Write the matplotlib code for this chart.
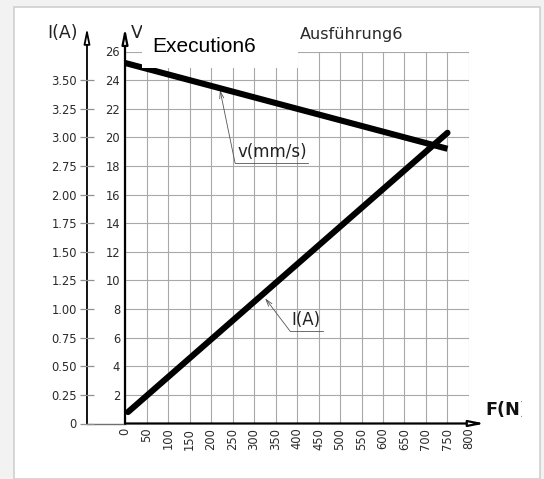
import matplotlib.pyplot as plt
from matplotlib.patches import Rectangle
import numpy as np

plt.rcParams['font.family'] = ['DejaVu Sans']

# data
force_ticks = list(range(0, 801, 50))
speed_ticks = list(range(2, 27, 2))
current_pos = [0.0, 0.25, 0.5, 0.75, 1.0, 1.25, 1.5, 1.75, 2.0, 2.25, 2.5, 2.75, 3.0]
current_labels = ['0', '0.25', '0.50', '0.75', '1.00', '1.25', '1.50', '1.75',
                  '2.00', '2.75', '3.00', '3.25', '3.50']

speed_force = [0, 750]
speed_vals = [25.2, 19.2]      # v (mm/s)
current_force = [7, 750]
current_vals = [0.10, 2.54]    # I (A), on the left-hand scale

W, H = 544, 479
fig = plt.figure(figsize=(W / 100, H / 100), dpi=100, facecolor='#f2f2f2')

# white card with a soft edge (behind the axes)
fig.patches.append(Rectangle((14 / W, 0), 526 / W, 472 / H, transform=fig.transFigure,
                             facecolor='white', edgecolor='#d0d0d0', lw=1.2, zorder=-1))

ax = fig.add_axes([125 / W, (H - 423.5) / H, 344 / W, 372 / H])
ax.set_xlim(0, 800)
ax.set_ylim(0, 26)
ax.set_facecolor('none')
for s in ax.spines.values():
    s.set_visible(False)
ax.set_xticks(force_ticks)
ax.set_yticks(speed_ticks)
ax.grid(True, color='#a8a8a8', lw=0.8)
ax.set_axisbelow(True)
ax.tick_params(axis='both', length=0, labelsize=8.3, labelcolor='#2a2a2a')
ax.tick_params(axis='y', pad=3.5)
ax.tick_params(axis='x', pad=3, labelrotation=90)
for lab in ax.get_xticklabels():
    lab.set_va('top')

# current scale on a second axis, further left
ax2 = ax.twinx()
ax2.set_ylim(0, 26 / 8)
ax2.yaxis.tick_left()
ax2.yaxis.set_label_position('left')
for k, s in ax2.spines.items():
    s.set_visible(False)
ax2.set_yticks(current_pos)
ax2.set_yticklabels(current_labels)
ax2.tick_params(axis='y', direction='inout', length=9.4, width=0.9, color='#909090',
                pad=2.5, labelsize=8.3, labelcolor='#2a2a2a')
ax2.spines['left'].set_position(('axes', -0.1105))

# data lines
ax.plot(speed_force, speed_vals, color='black', lw=4.4, solid_capstyle='butt', zorder=4)
ax2.plot(current_force, current_vals, color='black', lw=4.4, solid_capstyle='round', zorder=4)

# axes with hollow arrow heads
arrow = dict(arrowstyle='-|>,head_length=0.9,head_width=0.18', fc='white', ec='black',
             lw=1.6, shrinkA=0, shrinkB=0)
ax.annotate('', xy=(837, 0), xytext=(0, 0), arrowprops=arrow, annotation_clip=False)
ax.annotate('', xy=(0, 27.66), xytext=(0, 0), arrowprops=arrow, annotation_clip=False)
arrow_i = dict(arrow, lw=1.3)
ax.annotate('', xy=(-0.1105, 27.66), xytext=(-0.1105, 0),
            xycoords=('axes fraction', 'data'), textcoords=('axes fraction', 'data'),
            arrowprops=arrow_i, annotation_clip=False)
ax.plot([-0.1105, 0], [0, 0], color='#707070', lw=1.0,
        transform=ax.get_yaxis_transform(), clip_on=False)

# leader labels
lead = dict(arrowstyle='->,head_length=0.5,head_width=0.15', color='#555555', lw=0.6,
            shrinkA=0, shrinkB=0)
ax.annotate('', xy=(221, 23.3), xytext=(256, 18.2), arrowprops=lead)
ax.plot([256, 426], [18.2, 18.2], color='#555555', lw=0.6)
ax.text(262, 18.35, 'v(mm/s)', fontsize=12, va='bottom', ha='left', color='#222222')

ax.annotate('', xy=(326, 8.75), xytext=(384, 6.45), arrowprops=lead)
ax.plot([384, 460], [6.45, 6.45], color='#555555', lw=0.6)
ax.text(388, 6.6, 'I(A)', fontsize=12, va='bottom', ha='left', color='#222222')

# axis titles
fig.text(47 / W, 1 - 33 / H, 'I(A)', fontsize=12.5, va='center', ha='left', color='#222222')
fig.text(131 / W, 1 - 33 / H, 'V', fontsize=12.5, va='center', ha='left', color='#222222')
ft = fig.text(485 / W, 1 - 410 / H, 'F(N)', fontsize=12.7, fontweight='bold',
              va='center', ha='left', color='#111111')
ft.set_clip_path(Rectangle((0, 0), 522, H, transform=None))

# header boxes
fig.patches.append(Rectangle((142 / W, 1 - 68 / H), 156 / W, 43 / H, transform=fig.transFigure,
                             facecolor='white', edgecolor='none', zorder=5))
fig.text(152 / W, 1 - 46 / H, 'Execution6', fontsize=15, family='Liberation Sans',
         va='center', ha='left', color='black', zorder=6)
fig.text(300 / W, 1 - 35 / H, 'Ausführung6', fontsize=11.6, va='center', ha='left',
         color='#2a2a2a', zorder=6)

fig.savefig('out.png', dpi=100, facecolor=fig.get_facecolor())
